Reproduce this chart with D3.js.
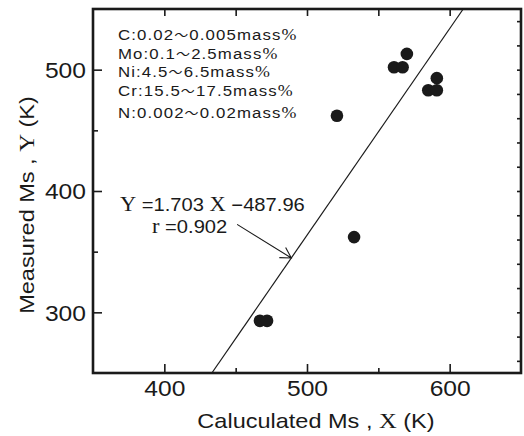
<!DOCTYPE html>
<html>
<head>
<meta charset="utf-8">
<script src="https://cdn.jsdelivr.net/npm/d3@7"></script>
<style>
  body { margin: 0; background: #fff; }
  svg { display: block; }
  text { fill: #1a1a1a; font-family: "Liberation Sans", Arial, sans-serif; }
</style>
</head>
<body>
<div id="chart"></div>
<script>
// data
const calculatedMs = [467, 472, 521, 533, 561, 567, 570, 585, 591, 591];
const measuredMs = [293, 293, 462, 362, 502, 502, 513, 483, 483, 493];

const xMajorTicks = [400, 500, 600];
const xMinorTicks = [450, 550];
const xTopTicks = [400, 450, 500, 550, 600];
const yMajorTicks = [300, 400, 500];
const yMinorTicks = [350, 450];
const yRightTicks = [260, 280, 300, 320, 340, 360, 380, 400, 420, 440, 460, 480, 500, 520, 540];

const slope = 1.703;
const intercept = -487.96;
const rValue = 0.902;

const compositionLines = [
  ['C:0.02', '0.005mass'],
  ['Mo:0.1', '2.5mass'],
  ['Ni:4.5', '6.5mass'],
  ['Cr:15.5', '17.5mass'],
  ['N:0.002', '0.02mass']
];

const width = 524;
const height = 436;
const margin = {top: 9, right: 3, bottom: 63, left: 93};
const sx = 1.12; // the scan is a bit wider than tall

const svg = d3.select('#chart')
  .append('svg')
  .attr('width', width)
  .attr('height', height);

const x = d3.scaleLinear().domain([350, 650]).range([margin.left, width - margin.right]);
const y = d3.scaleLinear().domain([250, 550]).range([height - margin.bottom, margin.top]);

const ink = '#1a1a1a';

// ticks (all pointing inward)
function tickAxis (axis, transform, cls) {
  return svg.append('g')
    .attr('class', cls)
    .attr('transform', transform)
    .call(axis)
    .call(g => g.select('.domain').remove())
    .call(g => g.selectAll('line').attr('stroke', ink).attr('stroke-width', 1.6));
}

const bottom = tickAxis(d3.axisBottom(x).tickValues(xMajorTicks).tickSize(-9).tickFormat(d3.format('d')),
  'translate(0,' + y.range()[0] + ')', 'x-axis');
tickAxis(d3.axisBottom(x).tickValues(xMinorTicks).tickSize(-5).tickFormat(''),
  'translate(0,' + y.range()[0] + ')', 'x-minor');
tickAxis(d3.axisTop(x).tickValues(xTopTicks).tickSize(-7).tickFormat(''),
  'translate(0,' + y.range()[1] + ')', 'x-top');

const left = tickAxis(d3.axisLeft(y).tickValues(yMajorTicks).tickSize(-9).tickFormat(d3.format('d')),
  'translate(' + x.range()[0] + ',0)', 'y-axis');
tickAxis(d3.axisLeft(y).tickValues(yMinorTicks).tickSize(-5).tickFormat(''),
  'translate(' + x.range()[0] + ',0)', 'y-minor');
tickAxis(d3.axisRight(y).tickValues(yRightTicks).tickSize(-4).tickFormat(''),
  'translate(' + x.range()[1] + ',0)', 'y-right');

bottom.selectAll('text')
  .attr('y', 0).attr('dy', 0)
  .attr('transform', 'translate(0,23) scale(' + sx + ',1)')
  .style('font-size', '22px')
  .style('fill', ink);

left.selectAll('text')
  .attr('x', 0).attr('dy', '0.36em')
  .attr('transform', 'translate(-7,0) scale(' + sx + ',1)')
  .style('font-size', '22px')
  .style('fill', ink);

// frame
svg.append('rect')
  .attr('x', x.range()[0])
  .attr('y', y.range()[1])
  .attr('width', x.range()[1] - x.range()[0])
  .attr('height', y.range()[0] - y.range()[1])
  .attr('fill', 'none')
  .attr('stroke', ink)
  .attr('stroke-width', 2.6);

// regression line, clipped to the frame
const yLo = y.domain()[0];
const yHi = y.domain()[1];
svg.append('line')
  .attr('x1', x((yLo - intercept) / slope))
  .attr('y1', y(yLo))
  .attr('x2', x((yHi - intercept) / slope))
  .attr('y2', y(yHi))
  .attr('stroke', ink)
  .attr('stroke-width', 1.2);

// points
svg.append('g')
  .selectAll('circle')
  .data(calculatedMs.map((d, i) => [d, measuredMs[i]]))
  .enter()
  .append('circle')
  .attr('cx', d => x(d[0]))
  .attr('cy', d => y(d[1]))
  .attr('r', 6.3)
  .attr('fill', ink);

// arrow to the regression line
const arrowFrom = [451, 372.5];
const arrowToX = 489;
const ax1 = x(arrowFrom[0]);
const ay1 = y(arrowFrom[1]);
const ax2 = x(arrowToX);
const ay2 = y(slope * arrowToX + intercept);
const ang = Math.atan2(ay1 - ay2, ax1 - ax2);
const headLen = 12;
const headAng = Math.PI / 6;
svg.append('path')
  .attr('d',
    'M' + ax1 + ',' + ay1 + 'L' + ax2 + ',' + ay2 +
    'M' + (ax2 + headLen * Math.cos(ang - headAng)) + ',' + (ay2 + headLen * Math.sin(ang - headAng)) +
    'L' + ax2 + ',' + ay2 +
    'L' + (ax2 + headLen * Math.cos(ang + headAng)) + ',' + (ay2 + headLen * Math.sin(ang + headAng)))
  .attr('fill', 'none')
  .attr('stroke', ink)
  .attr('stroke-width', 1.1);

// equation
const eq = svg.append('text')
  .attr('transform', 'translate(120,211) scale(' + sx + ',1)')
  .style('font-size', '18px');
eq.append('tspan').style('font-family', '"Liberation Serif", serif').style('font-size', '20px').text('Y');
eq.append('tspan').text(' =' + slope + ' ');
eq.append('tspan').style('font-family', '"Liberation Serif", serif').style('font-size', '20px').text('X');
eq.append('tspan').text(' \u2212' + (-intercept).toFixed(2));

const rt = svg.append('text')
  .attr('transform', 'translate(152,233) scale(' + sx + ',1)')
  .style('font-size', '18px');
rt.append('tspan').style('font-family', '"Liberation Serif", serif').style('font-size', '20px').text('r');
rt.append('tspan').text(' =' + rValue);

// composition block; the wave dash and % are kept small in box height so lines do not collide
const lineY = [40, 58.5, 77, 96, 118];
compositionLines.forEach((parts, i) => {
  const t = svg.append('text')
    .attr('transform', 'translate(118,' + lineY[i] + ') scale(' + sx + ',1)')
    .style('font-size', '15px')
    .style('letter-spacing', '1px');
  t.append('tspan').text(parts[0]);
  t.append('tspan').style('font-family', '"Noto Sans CJK JP", sans-serif').style('font-size', '12.5px').text('\uFF5E');
  t.append('tspan').text(parts[1]);
  t.append('tspan').style('font-family', '"Liberation Serif", serif').style('font-size', '16px').text('%');
});

// axis titles
const xt = svg.append('text')
  .attr('text-anchor', 'middle')
  .attr('transform', 'translate(316,428) scale(' + sx + ',1)')
  .style('font-size', '21px');
xt.append('tspan').text('Caluculated Ms , ');
xt.append('tspan').style('font-family', '"Liberation Serif", serif').style('font-size', '22px').text('X');
xt.append('tspan').text(' (K)');

const yt = svg.append('text')
  .attr('text-anchor', 'middle')
  .attr('transform', 'translate(34,205) rotate(-90) scale(' + sx + ',1)')
  .style('font-size', '21px');
yt.append('tspan').text('Measured Ms , ');
yt.append('tspan').style('font-family', '"Liberation Serif", serif').style('font-size', '22px').text('Y');
yt.append('tspan').text(' (K)');
</script>
</body>
</html>
